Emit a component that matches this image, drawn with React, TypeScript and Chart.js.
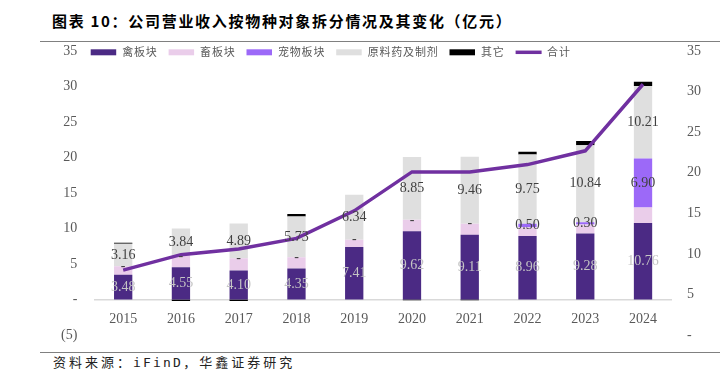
import React, { useEffect, useRef } from "react";
import { Chart, registerables } from "chart.js";

Chart.register(...registerables);

const years = ["2015", "2016", "2017", "2018", "2019", "2020", "2021", "2022", "2023", "2024"];
const poultry = [3.48, 4.55, 4.1, 4.35, 7.41, 9.62, 9.11, 8.96, 9.28, 10.76];
const livestock = [1.2, 1.6, 1.7, 1.6, 1.0, 1.6, 1.55, 1.2, 1.3, 2.2];
const pet = [0, 0, 0, 0, 0, 0, 0, 0.5, 0.3, 6.9];
const apiPrep = [3.16, 3.84, 4.89, 5.73, 6.34, 8.85, 9.46, 9.75, 10.84, 10.21];
const others = [0.15, -0.2, -0.2, 0.35, 0, -0.1, -0.1, 0.4, 0.6, 0.6];
const total = [8.0, 9.9, 10.6, 11.9, 15.3, 20.1, 20.1, 21.0, 22.7, 30.9];

const seriesNames = ["禽板块", "畜板块", "宠物板块", "原料药及制剂", "其它", "合计"];
const leftMin = -5;
const leftMax = 35;
const rightMin = 0;
const rightMax = 35;
const tickStep = 5;

const TICK_COLOR = "#595959";
const NUM_FONT = "'Liberation Serif', 'Times New Roman', serif";
const CJK_FONT = "'Noto Sans CJK SC', sans-serif";

function fmtTick(v: number): string {
  if (v === 0) return "-";
  if (v < 0) return `(${-v})`;
  return String(v);
}

export default function App() {
  const ref = useRef<HTMLCanvasElement>(null);

  useEffect(() => {
    const canvas = ref.current;
    if (!canvas) return;

    const labelPlugin = {
      id: "segLabels",
      afterDatasetsDraw(chart: any) {
        const ctx = chart.ctx;
        ctx.save();
        ctx.font = `14px ${NUM_FONT}`;
        ctx.textAlign = "center";
        ctx.textBaseline = "middle";
        chart.data.datasets.forEach((ds: any, i: number) => {
          if (!ds.labelColor) return;
          const meta = chart.getDatasetMeta(i);
          meta.data.forEach((el: any, j: number) => {
            const v = ds.data[j] as number;
            const p = el.getProps(["x", "y", "base"], true);
            const text = v === 0 ? "-" : v.toFixed(2);
            ctx.fillStyle = ds.labelColor;
            ctx.fillText(text, p.x, (p.y + p.base) / 2);
          });
        });
        ctx.restore();
      },
    };

    const legendPlugin = {
      id: "customLegend",
      afterDraw(chart: any) {
        const ctx = chart.ctx;
        ctx.save();
        ctx.font = `11px ${CJK_FONT}`;
        try {
          (ctx as any).letterSpacing = "0.8px";
        } catch (e) {}
        ctx.textAlign = "left";
        ctx.textBaseline = "middle";
        let x = 90.7;
        const yc = 16.3;
        chart.data.datasets.forEach((ds: any) => {
          if (ds.type === "line") {
            ctx.strokeStyle = ds.borderColor;
            ctx.lineWidth = 3.5;
            ctx.beginPath();
            ctx.moveTo(x, yc);
            ctx.lineTo(x + 26, yc);
            ctx.stroke();
            x += 26 + 5.5;
          } else {
            ctx.fillStyle = ds.backgroundColor;
            ctx.fillRect(x, yc - 3, 25.5, 6);
            x += 25.5 + 6;
          }
          ctx.fillStyle = TICK_COLOR;
          ctx.fillText(ds.label, x, yc);
          x += ctx.measureText(ds.label).width + 11;
        });
        ctx.restore();
      },
    };

    const barBase = {
      type: "bar" as const,
      yAxisID: "y",
      stack: "s",
      order: 1,
      barPercentage: 0.317,
      categoryPercentage: 1,
      borderWidth: 0,
    };

    const chart = new Chart(canvas, {
      type: "bar",
      data: {
        labels: years,
        datasets: [
          { ...barBase, label: seriesNames[0], data: poultry, backgroundColor: "#4B2A84", labelColor: "#C4C4C4" } as any,
          { ...barBase, label: seriesNames[1], data: livestock, backgroundColor: "#EACDEA" } as any,
          { ...barBase, label: seriesNames[2], data: pet, backgroundColor: "#9C69F8", labelColor: "#404040" } as any,
          { ...barBase, label: seriesNames[3], data: apiPrep, backgroundColor: "#DFDFDF", labelColor: "#404040" } as any,
          { ...barBase, label: seriesNames[4], data: others, backgroundColor: "#000000" } as any,
          {
            type: "line",
            label: seriesNames[5],
            data: total,
            yAxisID: "y1",
            order: 0,
            borderColor: "#7030A0",
            backgroundColor: "#7030A0",
            borderWidth: 3.5,
            pointRadius: 0,
            tension: 0,
            fill: false,
          } as any,
        ],
      },
      options: {
        responsive: false,
        animation: false,
        devicePixelRatio: 1,
        layout: { padding: { top: 15, bottom: 11, left: 0, right: 0 } },
        plugins: {
          legend: { display: false },
          tooltip: { enabled: false },
        },
        scales: {
          x: {
            type: "category",
            position: { y: 0 } as any,
            stacked: true,
            offset: true,
            grid: { display: false, drawTicks: false },
            border: { display: true, color: "#D9D9D9", width: 1.5 },
            ticks: {
              padding: 11,
              color: TICK_COLOR,
              font: { family: NUM_FONT, size: 14 },
              maxRotation: 0,
            },
          },
          y: {
            position: "left",
            min: leftMin,
            max: leftMax,
            stacked: true,
            grid: { display: false, drawTicks: true, tickLength: 17 },
            border: { display: false },
            ticks: {
              stepSize: tickStep,
              padding: 0,
              color: TICK_COLOR,
              font: { family: NUM_FONT, size: 14 },
              callback: (v: any) => fmtTick(Number(v)),
            },
            afterFit: (s: any) => {
              s.width = 94.3;
            },
          },
          y1: {
            position: "right",
            min: rightMin,
            max: rightMax,
            grid: { display: false, drawTicks: true, tickLength: 15 },
            border: { display: false },
            ticks: {
              stepSize: tickStep,
              padding: 0,
              color: TICK_COLOR,
              font: { family: NUM_FONT, size: 14 },
              callback: (v: any) => fmtTick(Number(v)),
            },
            afterFit: (s: any) => {
              s.width = 48.1;
            },
          },
        },
      },
      plugins: [labelPlugin, legendPlugin],
    });

    return () => {
      chart.destroy();
    };
  }, []);

  return (
    <div
      style={{
        position: "fixed",
        left: 0,
        top: 0,
        width: 720,
        height: 376,
        background: "#ffffff",
        overflow: "hidden",
      }}
    >
      <div
        style={{
          position: "absolute",
          left: 52,
          top: 11,
          fontFamily: CJK_FONT,
          fontSize: 15,
          fontWeight: "bold",
          letterSpacing: "1.7px",
          lineHeight: "20px",
          color: "#000",
          whiteSpace: "nowrap",
        }}
      >
        图表 10：公司营业收入按物种对象拆分情况及其变化（亿元）
      </div>
      <div style={{ position: "absolute", left: 40, top: 41, width: 680, height: 1, background: "#808080" }} />
      <canvas
        ref={ref}
        width={720}
        height={310}
        style={{ position: "absolute", left: 0, top: 36, width: 720, height: 310, display: "block" }}
      />
      <div style={{ position: "absolute", left: 40, top: 352, width: 680, height: 1, background: "#808080" }} />
      <div
        style={{
          position: "absolute",
          left: 53,
          top: 354,
          fontFamily: CJK_FONT,
          fontSize: 13,
          letterSpacing: "3px",
          lineHeight: "16px",
          color: "#222",
          whiteSpace: "nowrap",
        }}
      >
        资料来源：
        <span style={{ fontFamily: "'DejaVu Sans Mono', monospace", letterSpacing: "2.2px" }}>iFinD</span>
        ，华鑫证券研究
      </div>
    </div>
  );
}
